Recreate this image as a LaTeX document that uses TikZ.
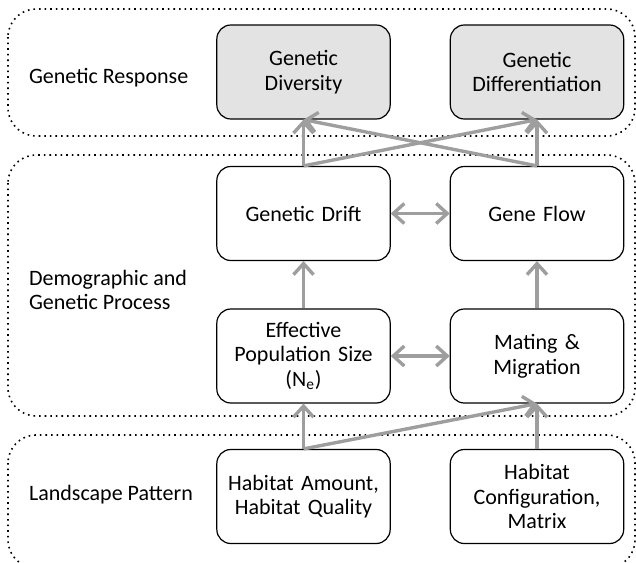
\documentclass[tikz,border=0pt]{standalone}
\usepackage{fontspec}
\setmainfont{Carlito}
\usetikzlibrary{arrows.meta}
\definecolor{respgray}{HTML}{E3E3E3}
\definecolor{arrowgray}{HTML}{9E9E9E}
\begin{document}
\begin{tikzpicture}[x=0.5pt, y=-0.5pt, font=\fontsize{11}{12.3}\selectfont,
		box/.style={draw, line width=0.6pt, rounded corners=7pt, minimum width=83.5pt, minimum height=47pt, text width=80pt, align=center},
		outbox/.style={box, fill=respgray},
		layer/.style={draw, dotted, line width=0.8pt, rounded corners=14pt},
		tip/.tip={Straight Barb[length=5.5pt, width=10pt]},
		link/.style={draw=arrowgray, line width=1.7pt, -tip},
		twoway/.style={draw=arrowgray, line width=1.7pt, tip-tip},
		lname/.style={anchor=west, align=left}]
		\useasboundingbox (0,0) rectangle (636,562);

		% layers
		\draw[layer] (8,9) rectangle (635,136);
		\draw[layer] (8,155) rectangle (635,416);
		\draw[layer] (8,435) rectangle (635,568);

		\node[lname] (resp) at (22,78) {Genetic Response};
		\node[lname] (proc) at (22,290) {Demographic and\\Genetic Process};
		\node[lname] (land) at (22,495) {Landscape Pattern};

		% boxes
		\node[outbox] (div) at (303.5,72) {Genetic\\Diversity};
		\node[outbox] (diff) at (537,72) {Genetic\\Differentiation};
		\node[box] (drift) at (303.5,213.5) {Genetic Drift};
		\node[box] (flow) at (537,213.5) {Gene Flow};
		\node[box] (ne) at (303.5,356) {Effective\\Population Size\\(N\textsubscript{e})};
		\node[box] (mate) at (537,356) {Mating \&\\Migration};
		\node[box] (amount) at (303.5,496.5) {Habitat Amount,\\Habitat Quality};
		\node[box] (config) at (537,496.5) {Habitat\\Configuration,\\Matrix};

		\path
		(drift.north) edge[link] (div.south)
		(drift.north) edge[link] (diff.south)
		(flow.north) edge[link] (diff.south)
		(flow.north) edge[link] (div.south)
		(drift) edge[twoway] (flow)
		(ne) edge[twoway] (mate)
		(ne) edge[link] (drift)
		(mate) edge[link] (flow)
		(amount.north) edge[link] (ne.south)
		(amount.north) edge[link] (mate.south)
		(config) edge[link] (mate);
	\end{tikzpicture}
\end{document}
